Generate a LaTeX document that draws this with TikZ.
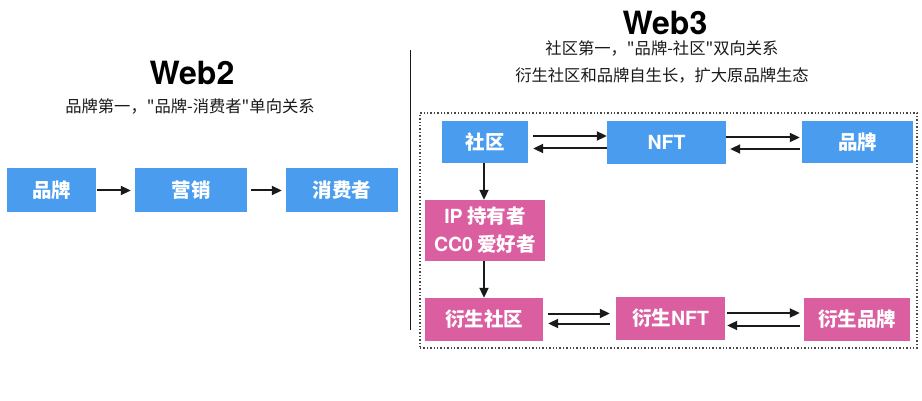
\documentclass[tikz,border=0pt]{standalone}
\usepackage{fontspec}
\setmainfont{TeX Gyre Heros}
\newfontfamily\cjk{Noto Sans CJK SC}
\newfontfamily\lat{TeX Gyre Heros}
\usetikzlibrary{arrows.meta}
\definecolor{bblue}{HTML}{4A9CEE}
\definecolor{ppink}{HTML}{DB5FA0}
\definecolor{ink}{HTML}{1A1A1A}
\tikzset{
  box/.style={rectangle, inner sep=0pt, text=white, font=\cjk\bfseries\fontsize{19.5}{22}\selectfont, align=center},
  bluebox/.style={box, fill=bblue},
  pinkbox/.style={box, fill=ppink},
  arr/.style={draw=ink, line width=2pt, -{Triangle[length=10pt,width=9pt]}},
  ttl/.style={font=\lat\bfseries\fontsize{32}{36}\selectfont, text=black, inner sep=0pt},
  sub/.style={font=\cjk\fontsize{16.3}{27}\selectfont, text=ink, inner sep=0pt, align=center},
}
\begin{document}
\begin{tikzpicture}[x=1pt,y=-1pt]
\useasboundingbox[fill=white] (0,0) rectangle (922,401);
% Web2
\node[ttl] (t2) at (192,73) {Web2};
\node[sub] (s2) at (190,106) {品牌第一，"品牌-消费者"单向关系};
\node[bluebox, minimum width=89pt, minimum height=44pt] (b1) at (51.5,190.5) {品牌};
\node[bluebox, minimum width=112pt, minimum height=44pt] (b2) at (191,190.5) {营销};
\node[bluebox, minimum width=112pt, minimum height=44pt] (b3) at (342,190.5) {消费者};
\draw[arr, shorten <=1pt, shorten >=4pt] (b1) -- (b2);
\draw[arr, shorten <=4pt, shorten >=4pt] (b2) -- (b3);
% divider
\coordinate (d1) at (410.5,50);
\coordinate (d2) at (410.5,330);
\draw[draw=ink, line width=1.3pt] (d1) -- (d2);
% Web3
\node[ttl] (t3) at (665,23) {Web3};
\node[sub] (s3) at (662,61.5) {社区第一，"品牌-社区"双向关系\\衍生社区和品牌自生长，扩大原品牌生态};
\node[draw=ink!80, dotted, line width=1.4pt, minimum width=497pt, minimum height=235pt, inner sep=0pt] (frame) at (668.5,230.5) {};
\node[bluebox, minimum width=86pt, minimum height=42pt] (s) at (485,142) {社区};
\node[bluebox, minimum width=119pt, minimum height=43pt] (n) at (666.5,142.5) {{\lat\bfseries NFT}};
\node[bluebox, minimum width=111pt, minimum height=42pt] (p) at (857.5,142) {品牌};
\node[pinkbox, minimum width=120pt, minimum height=61pt, font=\cjk\bfseries\fontsize{19.5}{28}\selectfont] (ip) at (485,230.5) {{\lat\bfseries IP} 持有者\\{\lat\bfseries CC0} 爱好者};
\node[pinkbox, minimum width=118pt, minimum height=43pt] (ds) at (484,319.5) {衍生社区};
\node[pinkbox, minimum width=109pt, minimum height=43pt] (dn) at (670.5,318.5) {衍生{\lat\bfseries NFT}};
\node[pinkbox, minimum width=106pt, minimum height=43pt] (dp) at (857,319.5) {衍生品牌};
% top row arrows
\draw[arr, shorten <=5pt] ([yshift=6pt]s.east) -- ([yshift=6pt]s.east -| n.west);
\draw[arr, shorten >=5pt] ([yshift=-6pt]n.west) -- ([yshift=-6pt]n.west -| s.east);
\draw[arr, shorten >=2pt] ([yshift=5pt]n.east) -- ([yshift=5pt]n.east -| p.west);
\draw[arr, shorten <=2pt, shorten >=4pt] ([yshift=-7pt]p.west) -- ([yshift=-7pt]p.west -| n.east);
% vertical arrows
\draw[arr] ([xshift=-1pt]s.south) -- ([xshift=-1pt]s.south |- ip.north);
\draw[arr] ([xshift=-1pt]ip.south) -- ([xshift=-1pt]ip.south |- ds.north);
% bottom row arrows
\draw[arr, shorten <=5pt, shorten >=6pt] ([yshift=6pt]ds.east) -- ([yshift=6pt]ds.east -| dn.west);
\draw[arr, shorten <=6pt, shorten >=5pt] ([yshift=-5pt]dn.west) -- ([yshift=-5pt]dn.west -| ds.east);
\draw[arr, shorten <=2pt, shorten >=4pt] ([yshift=5.5pt]dn.east) -- ([yshift=5.5pt]dn.east -| dp.west);
\draw[arr, shorten <=4pt, shorten >=2pt] ([yshift=-6pt]dp.west) -- ([yshift=-6pt]dp.west -| dn.east);
\end{tikzpicture}
\end{document}
